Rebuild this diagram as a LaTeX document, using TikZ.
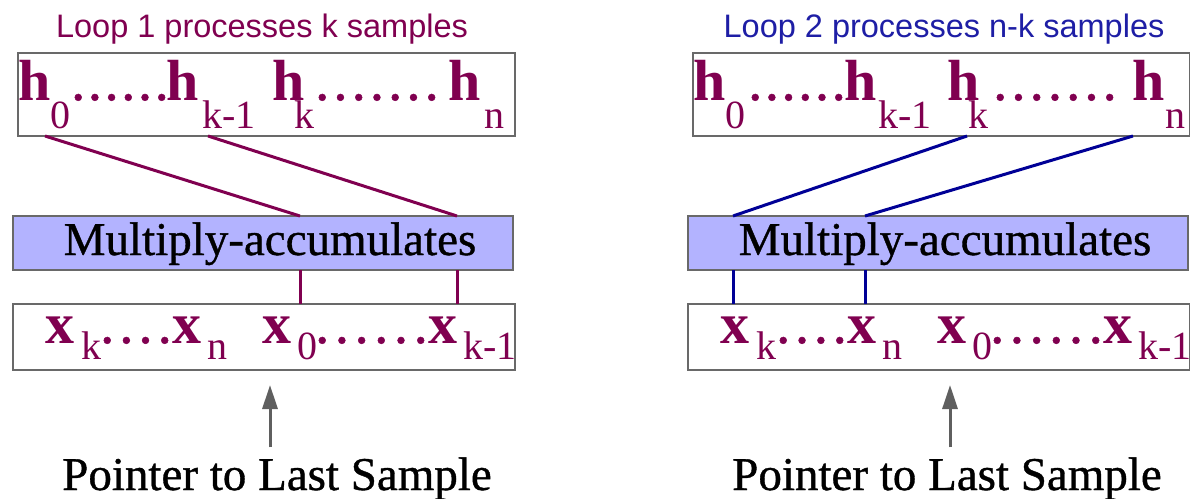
\documentclass[tikz,border=0pt]{standalone}
\usepackage{fontspec}
\setmainfont{Liberation Serif}
\newfontfamily\titlefont{Liberation Sans}
\newfontfamily\heavyserif[FakeBold=0.8]{Liberation Serif}
\usetikzlibrary{arrows.meta}
\definecolor{mag}{RGB}{128,0,80}
\definecolor{navyl}{RGB}{0,0,150}
\definecolor{titleblue}{RGB}{30,30,165}
\definecolor{macfill}{RGB}{179,179,255}
\definecolor{boxgray}{RGB}{105,105,105}
\definecolor{arrowgray}{RGB}{95,95,95}
\newcommand\dotrun[2]{\makebox[#1][l]{#2}}
\newcommand\sixdots{.\hfill.\hfill.\hfill.\hfill.\hfill.}
\newcommand\sevendots{.\hfill.\hfill.\hfill.\hfill.\hfill.\hfill.}
\newcommand\fourdots{.\hfill.\hfill.\hfill.}
\begin{document}
\begin{tikzpicture}[x=1pt,y=-1pt,
  panelbox/.style={draw=boxgray, line width=2pt, inner sep=0pt, outer sep=0pt, rectangle},
  macbox/.style={panelbox, fill=macfill},
  big/.style={anchor=base west, inner sep=0pt, outer sep=0pt, text=mag, font=\fontsize{58}{58}\selectfont\bfseries},
  sub/.style={anchor=base west, inner sep=0pt, outer sep=0pt, text=mag, font=\fontsize{40}{40}\selectfont},
  dotsrow/.style={anchor=base west, inner sep=0pt, outer sep=0pt, text=mag, font=\heavyserif\fontsize{58}{58}\selectfont},
  title/.style={font=\titlefont\fontsize{32.5}{32.5}\selectfont, anchor=base, inner sep=0pt},
  caption/.style={font=\heavyserif\fontsize{47}{47}\selectfont, anchor=base, inner sep=0pt, outer sep=0pt},
  link/.style={line width=3pt},
  ptr/.style={draw=arrowgray, line width=3pt, -{Triangle[length=24pt,width=15pt]}, arrowgray}
]
\useasboundingbox (0,0) rectangle (1190,498);

% ================= LEFT PANEL =================
\node[title, text=mag] (tL) at (262,37) {Loop 1 processes k samples};
\node[panelbox, minimum width=497pt, minimum height=83pt] (hL) at (266.5,94.5) {};
\node[macbox, minimum width=500pt, minimum height=54pt] (mL) at (263,243) {};
\node[caption] (mLt) at (270,255) {Multiply-accumulates};
\node[panelbox, minimum width=502pt, minimum height=66pt] (xL) at (264,337) {};

% h row
\node[big] (hL0) at (18,100) {h};
\node[sub] (hL0s) at (50,128) {0};
\node[dotsrow] (hLd1) at (71,100) {\dotrun{98pt}{\sixdots}};
\node[big] (hL1) at (166,100) {h};
\node[sub] (hL1s) at (202,128) {k-1};
\node[big] (hL2) at (272,100) {h};
\node[sub] (hL2s) at (294,128) {k};
\node[dotsrow] (hLd2) at (315,100) {\dotrun{124pt}{\sevendots}};
\node[big] (hL3) at (448,100) {h};
\node[sub] (hL3s) at (484,128) {n};

% x row
\node[big] (xL0) at (45,343) {x};
\node[sub] (xL0s) at (81,359) {k};
\node[dotsrow] (xLd1) at (100,343) {\dotrun{72pt}{\fourdots}};
\node[big] (xL1) at (172,343) {x};
\node[sub] (xL1s) at (207,359) {n};
\node[big] (xL2) at (262,343) {x};
\node[sub] (xL2s) at (297,359) {0};
\node[dotsrow] (xLd2) at (315,343) {\dotrun{113pt}{\sixdots}};
\node[big] (xL3) at (428,343) {x};
\node[sub] (xL3s) at (463,359) {k-1};

\coordinate (aL1) at (45,0);
\coordinate (aL2) at (208,0);
\coordinate (vL1) at (300,0);
\coordinate (vL2) at (457,0);
\draw[link, mag] (hL.south -| aL1) -- (mL.north -| vL1);
\draw[link, mag] (hL.south -| aL2) -- (mL.north -| vL2);
\draw[link, mag] (mL.south -| vL1) -- (xL.north -| vL1);
\draw[link, mag] (mL.south -| vL2) -- (xL.north -| vL2);

\node[caption] (pL) at (277,490) {Pointer to Last Sample};
\coordinate (arL) at (270,0);
\draw[ptr] ([yshift=10pt]pL.north -| arL) -- ([yshift=-15pt]xL.south -| arL);

% ================= RIGHT PANEL =================
\node[title, text=titleblue] (tR) at (944,37) {Loop 2 processes n-k samples};
\node[panelbox, minimum width=497pt, minimum height=83pt] (hR) at (941.5,94.5) {};
\node[macbox, minimum width=500pt, minimum height=54pt] (mR) at (938,243) {};
\node[caption] (mRt) at (945,255) {Multiply-accumulates};
\node[panelbox, minimum width=502pt, minimum height=66pt] (xR) at (939,337) {};

% h row
\node[big] (hR0) at (693,100) {h};
\node[sub] (hR0s) at (725,128) {0};
\node[dotsrow] (hRd1) at (748,100) {\dotrun{98pt}{\sixdots}};
\node[big] (hR1) at (844,100) {h};
\node[sub] (hR1s) at (878,128) {k-1};
\node[big] (hR2) at (947,100) {h};
\node[sub] (hR2s) at (968,128) {k};
\node[dotsrow] (hRd2) at (993,100) {\dotrun{124pt}{\sevendots}};
\node[big] (hR3) at (1132,100) {h};
\node[sub] (hR3s) at (1165,128) {n};

% x row
\node[big] (xR0) at (720,343) {x};
\node[sub] (xR0s) at (756,359) {k};
\node[dotsrow] (xRd1) at (776,343) {\dotrun{71pt}{\fourdots}};
\node[big] (xR1) at (847,343) {x};
\node[sub] (xR1s) at (882,359) {n};
\node[big] (xR2) at (937,343) {x};
\node[sub] (xR2s) at (972,359) {0};
\node[dotsrow] (xRd2) at (990,343) {\dotrun{113pt}{\sixdots}};
\node[big] (xR3) at (1103,343) {x};
\node[sub] (xR3s) at (1138,359) {k-1};

\coordinate (aR1) at (967,0);
\coordinate (aR2) at (1133,0);
\coordinate (vR1) at (733,0);
\coordinate (vR2) at (865,0);
\draw[link, navyl] (hR.south -| aR1) -- (mR.north -| vR1);
\draw[link, navyl] (hR.south -| aR2) -- (mR.north -| vR2);
\draw[link, navyl] (mR.south -| vR1) -- (xR.north -| vR1);
\draw[link, navyl] (mR.south -| vR2) -- (xR.north -| vR2);

\node[caption] (pR) at (947,490) {Pointer to Last Sample};
\coordinate (arR) at (950,0);
\draw[ptr] ([yshift=10pt]pR.north -| arR) -- ([yshift=-15pt]xR.south -| arR);
\end{tikzpicture}
\end{document}
